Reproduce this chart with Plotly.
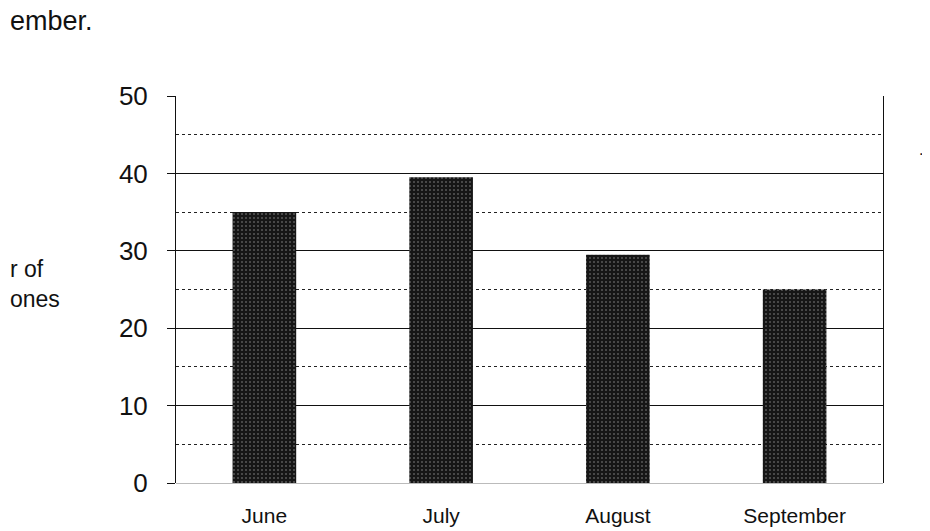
import plotly.graph_objects as go

months = ["June", "July", "August", "September"]
phones = [35, 39.5, 29.5, 25]
y_ticks = [0, 10, 20, 30, 40, 50]

fig = go.Figure()

fig.add_trace(go.Bar(
    x=months,
    y=phones,
    marker=dict(
        color="#161616",
        line=dict(width=0),
        pattern=dict(shape=".", fgcolor="#9a9a9a", bgcolor="#161616",
                     size=4, solidity=0.2),
    ),
    width=0.36,
))

# page body adds 8px, so the margins are set for that
fig.update_layout(
    width=930,
    height=531,
    margin=dict(l=168, r=55, t=88, b=47),
    paper_bgcolor="white",
    plot_bgcolor="white",
    showlegend=False,
    font=dict(family="Liberation Sans, Arial, sans-serif", color="#111"),
    xaxis=dict(
        showgrid=False,
        showline=False,
        ticks="",
        tickfont=dict(size=21),
        ticklabelstandoff=18,
    ),
    yaxis=dict(
        range=[0, 50],
        tickvals=y_ticks,
        tickfont=dict(size=26),
        ticks="outside",
        ticklen=8,
        tickcolor="#111",
        ticklabelstandoff=14,
        showline=True,
        linecolor="#111",
        linewidth=1,
        mirror=True,
        showgrid=True,
        gridcolor="#111",
        gridwidth=1,
        zeroline=True,
        zerolinecolor="#bbbbbb",
        zerolinewidth=1,
        minor=dict(
            dtick=5,
            showgrid=True,
            gridcolor="#222",
            gridwidth=1,
            griddash="dot",
        ),
    ),
    annotations=[
        dict(text="ember.", x=0, y=1.0, xref="paper", yref="paper",
             xanchor="left", yanchor="top", showarrow=False,
             font=dict(size=27), xshift=-168, yshift=92),
        dict(text="r of<br>ones", x=0, y=0.513, xref="paper", yref="paper",
             xanchor="left", yanchor="middle", showarrow=False, align="left",
             font=dict(size=23), xshift=-168),
        dict(text=".", x=1, y=0.862, xref="paper", yref="paper",
             xanchor="left", yanchor="middle", showarrow=False,
             font=dict(size=16, color="#111"), xshift=34),
    ],
)

fig.write_html("out.html")
